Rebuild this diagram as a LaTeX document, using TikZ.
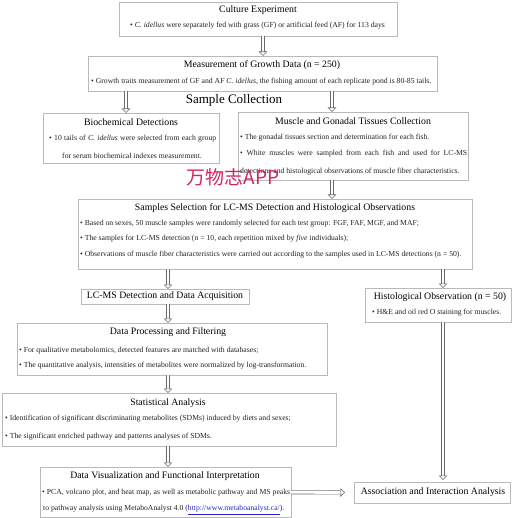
\documentclass[tikz,border=0pt]{standalone}
\usepackage{fontspec}
\setmainfont{Liberation Serif}
\newfontfamily\cjkfont{Noto Sans CJK SC}
\usetikzlibrary{arrows.meta}
\definecolor{boxgray}{RGB}{185,185,185}
\definecolor{arrgray}{RGB}{105,105,105}
\definecolor{txt}{RGB}{35,35,35}
\definecolor{wmred}{RGB}{212,36,98}
\definecolor{linkblue}{RGB}{40,40,200}
\begin{document}
\begin{tikzpicture}[x=1pt,y=-1pt,
 box/.style={draw=boxgray, line width=0.6pt, fill=white, inner sep=0pt, outer sep=0pt, anchor=north west},
 ttl/.style={font=\fontsize{9.8}{11}\selectfont, inner sep=0pt, text=black},
 bul/.style={font=\fontsize{7.7}{9}\selectfont, inner sep=0pt, anchor=west, text=txt},
 harrow/.style={draw=arrgray, line width=0.6pt, double=white, double distance=2.8pt, -{Triangle[open, length=4.5pt, width=8.5pt]}}]
\useasboundingbox (0,0) rectangle (512,518);

% boxes
\node[box, minimum width=278pt, minimum height=34pt] (b1) at (119,2) {};
\node[box, minimum width=349pt, minimum height=35pt] (b2) at (88,56) {};
\node[box, minimum width=176pt, minimum height=50pt] (b3) at (43,113) {};
\node[box, minimum width=230pt, minimum height=68pt] (b4) at (238,112) {};
\node[box, minimum width=394pt, minimum height=70pt] (b5) at (78,199) {};
\node[box, minimum width=168pt, minimum height=15pt] (b6) at (81,289) {};
\node[box, minimum width=310pt, minimum height=52pt] (b7) at (17,323) {};
\node[box, minimum width=334pt, minimum height=53pt] (b8) at (2,393) {};
\node[box, minimum width=146pt, minimum height=34pt] (b9) at (365,288) {};
\node[box, minimum width=251pt, minimum height=50.5pt] (b10) at (40,467) {};
\node[box, minimum width=156pt, minimum height=21pt] (b11) at (354,482) {};

% texts
\node[ttl] (t1) at (258,10) {Culture Experiment};
\node[bul] (l1) at (130,26) {• \textit{C. idellus} were separately fed with grass (GF) or artificial feed (AF) for 113 days};

\node[ttl] (t2) at (262,65) {Measurement of Growth Data (n = 250)};
\node[bul] (l2) at (91,82) {• Growth traits measurement of GF and AF \textit{C. idellus}, the fishing amount of each replicate pond is 80-85 tails.};

\node[ttl, font=\fontsize{13}{14}\selectfont] (sc) at (234,100) {Sample Collection};

\node[ttl] (t3) at (131,122) {Biochemical Detections};
\node[bul] (l3a) at (49,139) {\makebox[167pt][s]{• 10 tails of \textit{C. idellus} were selected from each group}};
\node[bul] (l3b) at (62,156) {for serum biochemical indexes measurement.};

\node[ttl] (t4) at (353,121) {Muscle and Gonadal Tissues Collection};
\node[bul] (l4a) at (240,138) {• The gonadal tissues section and determination for each fish.};
\node[bul] (l4b) at (240,154) {\makebox[227pt][s]{• White muscles were sampled from each fish and used for LC-MS}};
\node[bul] (l4c) at (240,172) {detections and histological observations of muscle fiber characteristics.};

\node[ttl] (t5) at (275,208) {Samples Selection for LC-MS Detection and Histological Observations};
\node[bul] (l5a) at (80,224) {• Based on sexes, 50 muscle samples were randomly selected for each test group: FGF, FAF, MGF, and MAF;};
\node[bul] (l5b) at (80,239) {• The samples for LC-MS detection (n = 10, each repetition mixed by \textit{five} individuals);};
\node[bul] (l5c) at (80,255) {• Observations of muscle fiber characteristics were carried out according to the samples used in LC-MS detections (n = 50).};

\node[ttl] (t6) at (165,296.5) {LC-MS Detection and Data Acquisition};

\node[ttl] (t7) at (168,332) {Data Processing and Filtering};
\node[bul] (l7a) at (19,351) {• For qualitative metabolomics, detected features are matched with databases;};
\node[bul] (l7b) at (19,366) {• The quantitative analysis, intensities of metabolites were normalized by log-transformation.};

\node[ttl] (t8) at (168,403) {Statistical Analysis};
\node[bul] (l8a) at (5,419) {• Identification of significant discriminating metabolites (SDMs) induced by diets and sexes;};
\node[bul] (l8b) at (5,437) {• The significant enriched pathway and patterns analyses of SDMs.};

\node[ttl] (t9) at (440,297) {Histological Observation (n = 50)};
\node[bul] (l9) at (372,313) {• H\&E and oil red O staining for muscles.};

\node[ttl] (t10) at (165,476) {Data Visualization and Functional Interpretation};
\node[bul] (l10a) at (42,493) {\makebox[248pt][s]{• PCA, volcano plot, and heat map, as well as metabolic pathway and MS peaks}};
\node[bul] (l10b) at (43,510) {to pathway analysis using MetaboAnalyst 4.0 (\textcolor{linkblue}{\underline{http://www.metaboanalyst.ca/}}).};

\node[ttl] (t11) at (433,492.5) {Association and Interaction Analysis};

% arrows
\draw[harrow] (b1.south -| 263,0) -- (b2.north -| 263,0);
\draw[harrow] (b2.south -| 126,0) -- (b3.north -| 126,0);
\draw[harrow] (b2.south -| 332,0) -- (b4.north -| 332,0);
\draw[harrow] (b4.south -| 332,0) -- (b5.north -| 332,0);
\draw[harrow] (b5.south -| 168,0) -- (b6.north -| 168,0);
\draw[harrow] (b5.south -| 443,0) -- (b9.north -| 443,0);
\draw[harrow] (b6.south -| 168,0) -- (b7.north -| 168,0);
\draw[harrow] (b7.south -| 168,0) -- (b8.north -| 168,0);
\draw[harrow] (b8.south -| 168,0) -- (b10.north -| 168,0);
\draw[harrow, shorten >=2pt] (b9.south -| 443,0) -- (b11.north -| 443,0);
\draw[harrow, shorten >=9pt] (b10.east) -- (b11.west);

% watermark
\node[font=\cjkfont\fontsize{19}{20}\selectfont, text=wmred, inner sep=0pt] (wm) at (233,177) {万物志APP};
\end{tikzpicture}
\end{document}
